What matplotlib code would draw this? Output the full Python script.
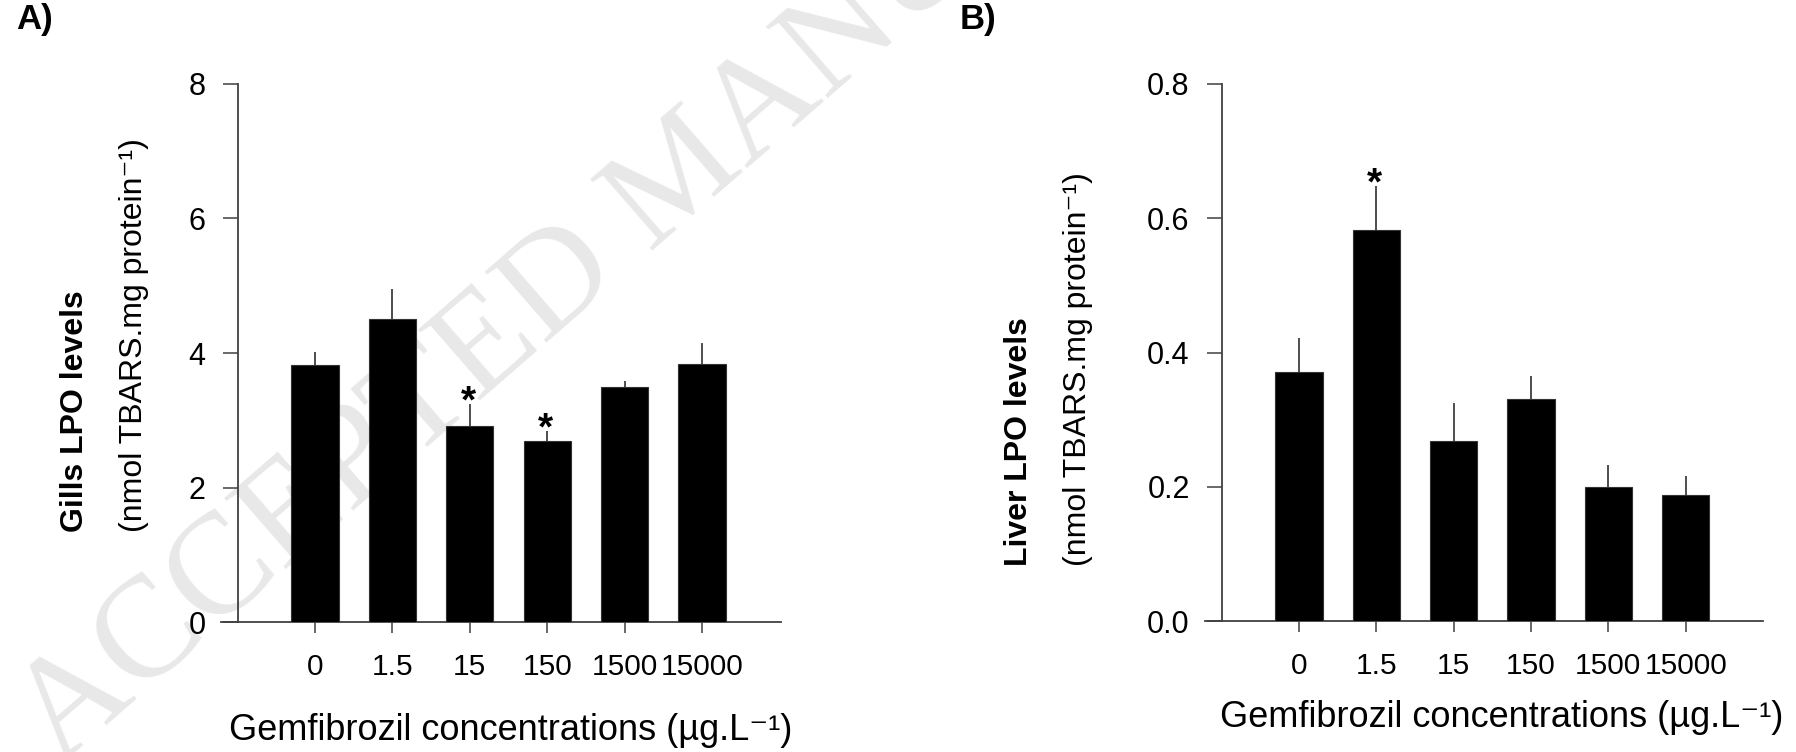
import matplotlib
matplotlib.use('Agg')
import matplotlib.pyplot as plt

concentrations = ['0', '1.5', '15', '150', '1500', '15000']

# gills LPO (mean, upper SE)
gillsLpo = [3.82, 4.51, 2.91, 2.69, 3.49, 3.84]
gillsErr = [0.19, 0.44, 0.33, 0.15, 0.10, 0.31]
gillsStar = [False, False, True, True, False, False]
gillsTicks = [0, 2, 4, 6, 8]
gillsTickLabels = ['0', '2', '4', '6', '8']

# liver LPO
liverLpo = [0.371, 0.583, 0.268, 0.331, 0.199, 0.187]
liverErr = [0.051, 0.065, 0.057, 0.034, 0.033, 0.029]
liverStar = [False, True, False, False, False, False]
liverTicks = [0.0, 0.2, 0.4, 0.6, 0.8]
liverTickLabels = ['0.0', '0.2', '0.4', '0.6', '0.8']

sansFont = ['Liberation Sans', 'DejaVu Sans']
axisColor = '#404040'

plt.rcParams['font.family'] = sansFont


def drawPanel(ax, values, errors, stars, yticks, yticklabels, xRight):
    positions = list(range(len(values)))
    ax.bar(positions, values, width=0.61, color='black', edgecolor='#333333',
           linewidth=0.8, zorder=3)
    ax.errorbar(positions, values, yerr=[[0] * len(values), errors], fmt='none',
                ecolor='#303030', elinewidth=1.2, capsize=0, zorder=2)
    for pos, val, err, star in zip(positions, values, errors, stars):
        if star:
            ax.annotate('*', xy=(pos, val + err), xytext=(-1, 1), textcoords='offset points',
                        ha='center', va='center', fontsize=28, fontweight='bold')

    ax.set_xlim(-1.215, xRight)
    ax.set_ylim(yticks[0], yticks[-1])
    ax.spines['top'].set_visible(False)
    ax.spines['right'].set_visible(False)
    ax.spines['left'].set_position(('data', -1.0))
    for side in ['left', 'bottom']:
        ax.spines[side].set_color(axisColor)
        ax.spines[side].set_linewidth(1.3)

    ax.set_xticks(positions)
    ax.set_xticklabels(concentrations, fontsize=21.5)
    ax.set_yticks(yticks)
    ax.set_yticklabels(yticklabels, fontsize=22)
    ax.tick_params(axis='y', direction='out', length=11, width=1.1, color=axisColor, pad=12)
    ax.tick_params(axis='x', direction='out', length=8, width=1.1, color=axisColor, pad=14)


fig = plt.figure(figsize=(17.96, 7.52), dpi=100)
axA = fig.add_axes([0.12305, 0.17287, 0.31180, 0.71543])
axB = fig.add_axes([0.67094, 0.17420, 0.31069, 0.71410])

# faint watermark from the source page
fig.text(0.033, -0.019, 'ACCEPTED MANUSCRIPT', family=['Liberation Serif', 'DejaVu Serif'],
         fontsize=104, color='#e8e8e8', rotation=41, rotation_mode='anchor',
         ha='left', va='baseline', zorder=0)
axA.set_zorder(1)
axA.patch.set_alpha(0)

drawPanel(axA, gillsLpo, gillsErr, gillsStar, gillsTicks, gillsTickLabels, 6.02)
drawPanel(axB, liverLpo, liverErr, liverStar, liverTicks, liverTickLabels, 6.0)

xLabel = 'Gemfibrozil concentrations (µg.L⁻¹)'
unitLabel = '(nmol TBARS.mg protein⁻¹)'

fig.text(0.2845, 0.016, xLabel, ha='center', va='baseline', fontsize=26)
fig.text(0.8363, 0.0332, xLabel, ha='center', va='baseline', fontsize=26)

fig.text(0.0418, 0.2926, 'Gills LPO levels', rotation=90, ha='center', va='bottom',
         fontsize=23, fontweight='bold')
fig.text(0.0746, 0.2926, unitLabel, rotation=90, ha='center', va='bottom', fontsize=23)
fig.text(0.5674, 0.2473, 'Liver LPO levels', rotation=90, ha='center', va='bottom',
         fontsize=23, fontweight='bold')
fig.text(0.6002, 0.2473, unitLabel, rotation=90, ha='center', va='bottom', fontsize=23)

fig.text(16 / 1796, 1 - 3 / 752, 'A)', ha='left', va='top', fontsize=25, fontweight='bold')
fig.text(960 / 1796, 1 - 3 / 752, 'B)', ha='left', va='top', fontsize=25, fontweight='bold')

fig.savefig('out.png', dpi=100)
